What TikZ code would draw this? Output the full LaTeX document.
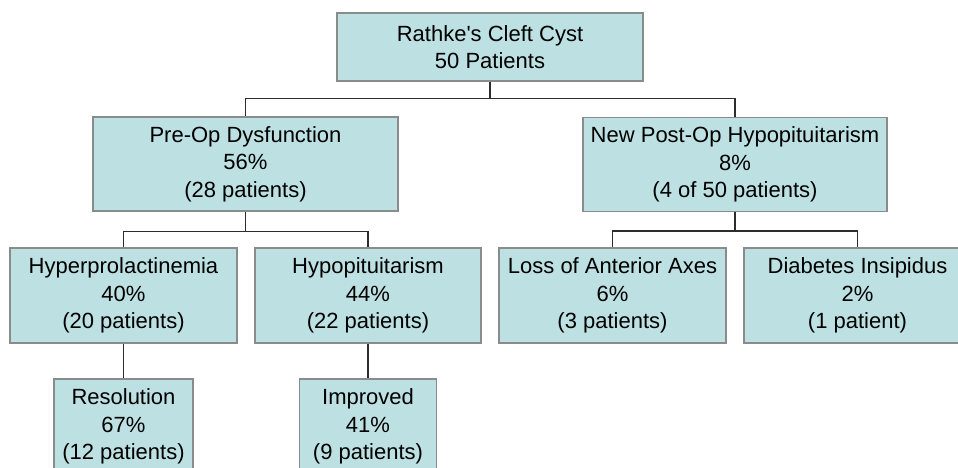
\documentclass[tikz,border=0pt]{standalone}
\usepackage{fontspec}
\setmainfont{Liberation Sans}
\definecolor{cystfill}{RGB}{189,225,227}
\definecolor{cystedge}{RGB}{138,140,140}
\definecolor{cystline}{RGB}{45,45,45}
\begin{document}
\begin{tikzpicture}[x=1pt,y=-1pt,
    every node/.style={draw=cystedge,line width=1.4pt,fill=cystfill,
        rectangle,inner sep=0pt,align=center,
        font=\fontsize{22}{27.5}\selectfont},
    link/.style={draw=cystline,line width=1.5pt}]
\clip (0,0) rectangle (958,467);
\node[minimum width=306pt,minimum height=68pt](root) at (490,47)
  {Rathke\textquotesingle s Cleft Cyst\\50 Patients};
\node[minimum width=305pt,minimum height=94pt](pre)  at (245.5,164)
  {Pre-Op Dysfunction\\56\%\\(28 patients)};
\node[minimum width=304pt,minimum height=94pt](post) at (735,164.5)
  {New Post-Op Hypopituitarism\\8\%\\(4 of 50 patients)};
\node[minimum width=227pt,minimum height=95pt](hyper) at (123.5,295.5)
  {Hyperprolactinemia\\40\%\\(20 patients)};
\node[minimum width=226pt,minimum height=95pt](hypo)  at (368,295.5)
  {Hypopituitarism\\44\%\\(22 patients)};
\node[minimum width=227pt,minimum height=95pt](loss)  at (612.5,295.5)
  {Loss of Anterior Axes\\6\%\\(3 patients)};
\node[minimum width=227pt,minimum height=95pt](diab)  at (857.5,295.5)
  {Diabetes Insipidus\\2\%\\(1 patient)};
\node[minimum width=139pt,minimum height=95pt](resol) at (123.5,426.5)
  {Resolution\\67\%\\(12 patients)};
\node[minimum width=137pt,minimum height=95pt](impr)  at (368,426.5)
  {Improved\\41\%\\(9 patients)};
\path[link] (root.south) -- +(0,17) -| (pre.north);
\path[link] (root.south) -- +(0,17) -| (post.north);
\path[link] (pre.south) -- +(0,20) -| (hyper.north);
\path[link] (pre.south) -- +(0,20) -| (hypo.north);
\path[link] (post.south) -- +(0,19) -| (loss.north);
\path[link] (post.south) -- +(0,19) -| (diab.north);
\path[link] (hyper) -- (resol);
\path[link] (hypo) -- (impr);
\end{tikzpicture}
\end{document}
